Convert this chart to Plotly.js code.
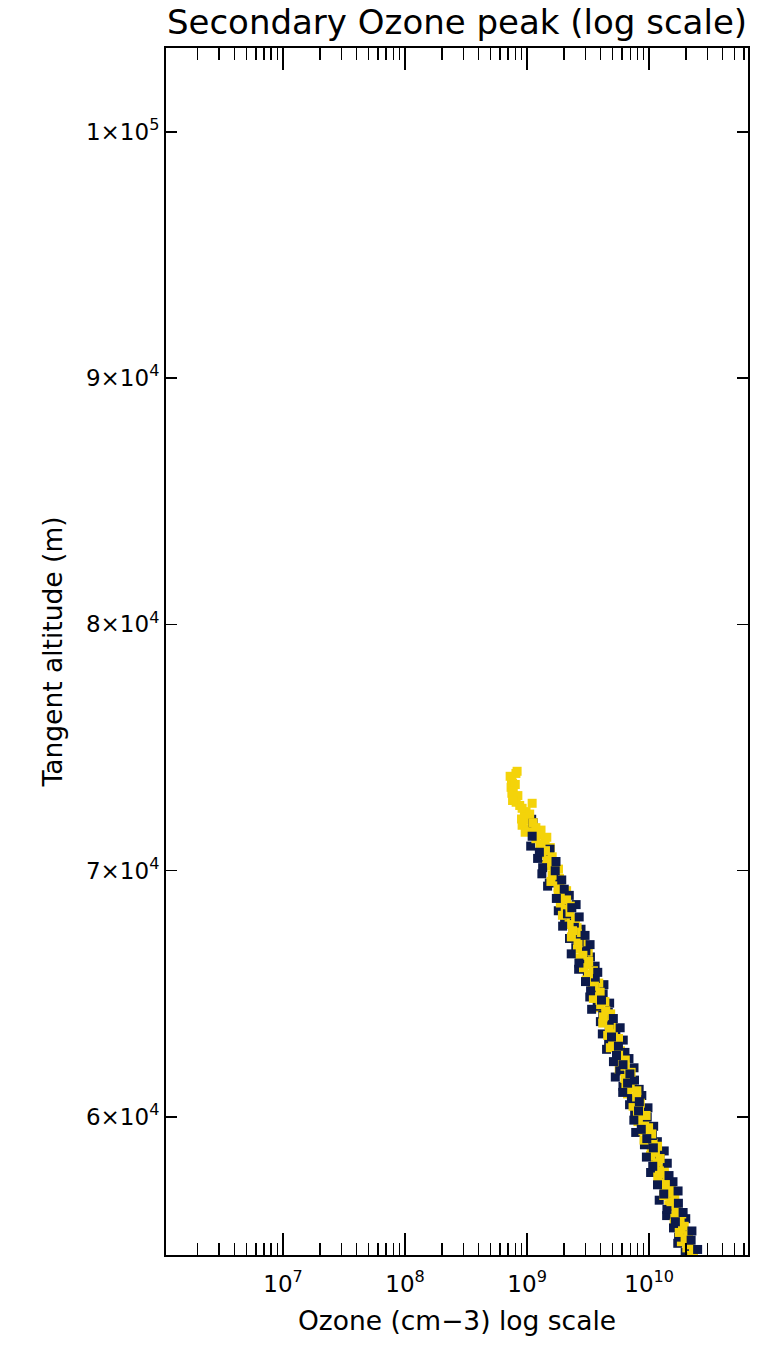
<!DOCTYPE html>
<html>
<head>
<meta charset="utf-8">
<script src="https://cdn.plot.ly/plotly-3.0.1.min.js"></script>
<style>html,body{margin:0;padding:0;background:#fff;}#chart{width:763px;height:1349px;}</style>
</head>
<body>
<div id="chart"></div>
<script>
// Navy series: tangent altitude (m) and ozone (cm-3)
const navyAlt = [72090,71950,71400,
71000,70875,70750,70625,70500,70375,70250,70125,70000,69875,69750,69625,69500,69375,69250,69125,69000,68875,68750,68625,68500,68375,68250,68125,68000,67875,67750,67625,67500,67375,67250,67125,67000,66875,66750,66625,66500,66375,66250,66125,66000,65875,65750,65625,65500,65375,65250,65125,65000,64875,64750,64625,64500,64375,64250,64125,64000,63875,63750,63625,63500,63375,63250,63125,63000,62875,62750,62625,62500,62375,62250,62125,62000,61875,61750,61625,61500,61375,61250,61125,61000,60875,60750,60625,60500,60375,60250,60125,60000,59875,59750,59625,59500,59375,59250,59125,59000,58875,58750,58625,58500,58375,58250,58125,58000,57875,57750,57625,57500,57375,57250,57125,57000,56875,56750,56625,56500,56375,56250,56125,56000,55875,55750,55625,55500,55375,55250,55125,55000,54875,54750,54625,54500];
const navyOzone = [1.09e9,1.12e9,1.10e9,
1.07e9,1.54e9,1.26e9,1.465e9,1.219e9,1.725e9,1.443e9,1.341e9,1.700e9,1.321e9,1.647e9,1.922e9,1.520e9,1.472e9,2.015e9,1.815e9,2.216e9,1.736e9,2.051e9,2.521e9,
2.324e9,1.801e9,2.141e9,2.672e9,2.029e9,2.439e9,1.955e9,2.765e9,2.357e9,2.983e9,2.226e9,2.665e9,3.280e9,2.505e9,3.030e9,2.299e9,3.303e9,2.899e9,2.658e9,3.607e9,
2.644e9,3.793e9,3.117e9,3.618e9,3.010e9,4.260e9,3.565e9,3.312e9,4.198e9,3.262e9,4.067e9,4.745e9,3.753e9,3.379e9,4.628e9,4.166e9,5.087e9,3.985e9,4.708e9,5.787e9,
5.336e9,4.134e9,4.916e9,6.135e9,4.658e9,5.602e9,4.478e9,6.334e9,5.398e9,6.832e9,5.099e9,6.104e9,7.514e9,5.744e9,6.957e9,5.279e9,7.584e9,6.657e9,6.102e9,8.284e9,
6.072e9,8.708e9,7.157e9,8.307e9,6.910e9,9.781e9,8.185e9,7.605e9,9.640e9,7.491e9,9.337e9,1.089e10,8.619e9,7.760e9,1.063e10,9.568e9,1.168e10,9.149e9,1.082e10,1.329e10,
1.225e10,9.495e9,1.129e10,1.408e10,1.070e10,1.287e10,1.028e10,1.455e10,1.239e10,1.568e10,1.171e10,1.401e10,1.726e10,1.317e10,1.594e10,1.209e10,1.737e10,1.525e10,1.398e10,1.898e10,
1.391e10,1.995e10,1.640e10,1.903e10,1.583e10,2.241e10,1.875e10,1.742e10,2.208e10,1.716e10,2.139e10,2.496e10,1.974e10];

// Yellow series: tangent altitude (m) and ozone (cm-3)
const yellowAlt = [74037,73950,73834,73700,73560,73500,73387,73250,73144,73050,72950,72850,72780,72738,72650,72535,72400,72300,72200,72100,72049,71950,71846,71750,71700,71650,71562,71440,71359,71300,
71190,71065,70940,70815,70690,70565,70440,70315,70190,70065,69940,69815,69690,69565,69440,69315,69190,69065,68940,68815,68690,68565,68440,68315,68190,68065,67940,67815,67690,67565,67440,67315,67190,67065,66940,66815,66690,66565,66440,66315,66190,66065,65940,65815,65690,65565,65440,65315,65190,65065,64940,64815,64690,64565,64440,64315,64190,64065,63940,63815,63690,63565,63440,63315,63190,63065,62940,62815,62690,62565,62440,62315,62190,62065,61940,61815,61690,61565,61440,61315,61190,61065,60940,60815,60690,60565,60440,60315,60190,60065,59940,59815,59690,59565,59440,59315,59190,59065,58940,58815,58690,58565,58440,58315,58190,58065,57940,57815,57690,57565,57440,57315,57190,57065,56940,56815,56690,56565,56440,56315,56190,56065,55940,55815,55690,55565,55440,55315,55190,55065,54940,54815,54690,54565,54440];
const yellowOzone = [8.28e8,8.10e8,7.26e8,7.45e8,7.60e8,8.00e8,7.39e8,7.70e8,7.50e8,8.40e8,7.95e8,7.60e8,8.13e8,1.10e9,8.70e8,9.10e8,9.80e8,1.05e9,9.50e8,9.00e8,1.02e9,1.12e9,9.10e8,1.18e9,1.05e9,1.30e9,9.64e8,1.28e9,1.45e9,1.18e9,
1.407e9,1.276e9,1.549e9,1.414e9,1.315e9,1.605e9,1.459e9,1.596e9,1.443e9,1.807e9,1.667e9,1.602e9,1.839e9,1.567e9,1.863e9,1.795e9,2.107e9,1.796e9,1.986e9,2.106e9,1.872e9,2.257e9,2.054e9,2.246e9,1.947e9,2.495e9,2.299e9,2.209e9,2.567e9,2.356e9,2.578e9,2.306e9,2.866e9,2.613e9,2.854e9,2.587e9,3.169e9,2.866e9,2.694e9,3.195e9,3.111e9,2.898e9,3.494e9,3.182e9,3.478e9,3.049e9,3.865e9,3.562e9,3.422e9,3.968e9,3.864e9,3.490e9,4.338e9,3.954e9,3.834e9,4.409e9,4.838e9,4.209e9,4.604e9,4.164e9,5.028e9,4.714e9,5.097e9,4.572e9,5.612e9,5.019e9,5.383e9,4.809e9,5.827e9,5.618e9,5.398e9,6.373e9,5.861e9,6.343e9,5.681e9,7.117e9,6.574e9,6.321e9,7.252e9,6.453e9,7.281e9,7.930e9,6.650e9,7.897e9,7.534e9,8.461e9,7.381e9,8.338e9,8.021e9,9.443e9,8.702e9,8.100e9,9.426e9,9.896e9,8.897e9,1.050e10,9.758e9,9.075e9,1.077e10,1.172e10,1.040e10,1.126e10,1.028e10,1.229e10,1.163e10,1.117e10,1.332e10,1.214e10,1.326e10,1.176e10,1.407e10,1.358e10,1.521e10,1.333e10,1.473e10,1.317e10,1.623e10,1.508e10,1.448e10,1.680e10,1.653e10,1.849e10,1.623e10,1.792e10,1.605e10,1.938e10,1.817e10,1.764e10,2.100e10,1.971e10,1.837e10,2.155e10,2.037e10,2.309e10,2.229e10];

// Axis ticks and labels
const xTickVals = [1e7, 1e8, 1e9, 1e10];
const xTickText = ['10<sup>7</sup>', '10<sup>8</sup>', '10<sup>9</sup>', '10<sup>10</sup>'];
const xMinorVals = [2e6,3e6,4e6,5e6,6e6,7e6,8e6,9e6,2e7,3e7,4e7,5e7,6e7,7e7,8e7,9e7,2e8,3e8,4e8,5e8,6e8,7e8,8e8,9e8,2e9,3e9,4e9,5e9,6e9,7e9,8e9,9e9,2e10,3e10,4e10,5e10,6e10];
const yTickVals = [60000, 70000, 80000, 90000, 100000];
const yTickText = ['6×10<sup>4</sup>', '7×10<sup>4</sup>', '8×10<sup>4</sup>', '9×10<sup>4</sup>', '1×10<sup>5</sup>'];

const FONT = 'DejaVu Sans, sans-serif';
const NAVY = '#0c1a4b';
const YELLOW = '#f4d30a';

// interleave drawing order of the two series so the colours mix like the original overplot
function part(xs, ys, n, k) {
  const px = [], py = [];
  xs.forEach((v, i) => { if (i % n === k) { px.push(v); py.push(ys[i]); } });
  return {x: px, y: py};
}
function trace(d, color) {
  return {x: d.x, y: d.y, type: 'scatter', mode: 'markers',
          marker: {symbol: 'square', size: 9, color: color, line: {width: 0}}};
}
const traces = [
  trace(part(navyOzone, navyAlt, 3, 0), NAVY),
  trace(part(yellowOzone, yellowAlt, 2, 0), YELLOW),
  trace(part(navyOzone, navyAlt, 3, 1), NAVY),
  trace(part(yellowOzone, yellowAlt, 2, 1), YELLOW),
  trace(part(navyOzone, navyAlt, 3, 2), NAVY)
];

const layout = {
  width: 763, height: 1349,
  margin: {l: 166, r: 15, t: 48, b: 94},
  paper_bgcolor: '#ffffff', plot_bgcolor: '#ffffff',
  showlegend: false,
  font: {family: FONT, color: '#000', size: 23},
  title: {text: 'Secondary Ozone peak (log scale)', font: {family: FONT, size: 34, color: '#000'},
          x: 0.5, xref: 'paper', xanchor: 'center', y: 1 - 22/1349, yref: 'container', yanchor: 'middle'},
  xaxis: {
    type: 'log', range: [6.041, 10.81], autorange: false,
    tickmode: 'array', tickvals: xTickVals, ticktext: xTickText,
    ticks: 'inside', ticklen: 22, tickwidth: 1.5, tickcolor: '#000',
    minor: {tickmode: 'array', tickvals: xMinorVals, ticks: 'inside', ticklen: 12, tickwidth: 1.5, tickcolor: '#000', showgrid: false},
    showline: true, linecolor: '#000', linewidth: 2, mirror: 'ticks',
    showgrid: false, zeroline: false,
    ticklabelstandoff: 7,
    tickfont: {family: FONT, size: 23, color: '#000'},
    title: {text: 'Ozone (cm−3) log scale', font: {family: FONT, size: 26.5, color: '#000'}, standoff: 16}
  },
  yaxis: {
    type: 'linear', range: [54400, 103400], autorange: false,
    tickmode: 'array', tickvals: yTickVals, ticktext: yTickText,
    ticks: 'inside', ticklen: 11, tickwidth: 1.5, tickcolor: '#000',
    showline: true, linecolor: '#000', linewidth: 2, mirror: 'ticks',
    showgrid: false, zeroline: false,
    tickfont: {family: FONT, size: 23, color: '#000'},
    title: {text: 'Tangent altitude (m)', font: {family: FONT, size: 26.5, color: '#000'}, standoff: 16}
  }
};

Plotly.newPlot('chart', traces, layout, {displayModeBar: false, staticPlot: true});
</script>
</body>
</html>
